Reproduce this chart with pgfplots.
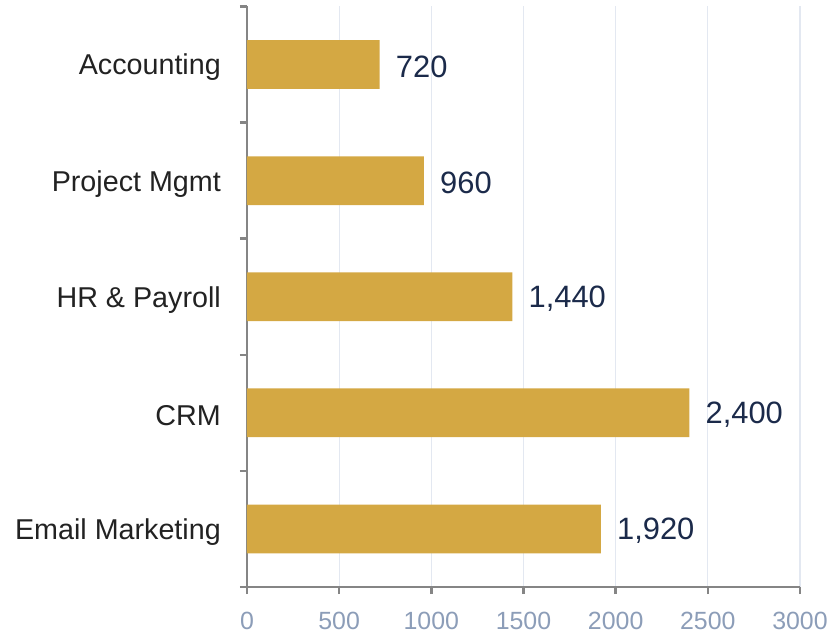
\documentclass[border=0pt]{standalone}
\usepackage{fontspec}
\setmainfont{Liberation Sans}
\usepackage{pgfplots}
\pgfplotsset{compat=1.18}
\definecolor{barc}{HTML}{D4A843}
\definecolor{valc}{HTML}{1B2A4A}
\definecolor{tickc}{HTML}{8C9DB8}
\definecolor{catc}{HTML}{222222}
\definecolor{axisgray}{HTML}{858585}
\definecolor{gridc}{HTML}{E3E8F1}
\begin{document}
\begin{tikzpicture}
\useasboundingbox (-247bp,-47bp) rectangle (586bp,587bp);
\begin{axis}[
  at={(0,0)}, anchor=south west,
  xbar, bar width=0.42, bar shift=0pt,
  scale only axis, width=553bp, height=580.5bp,
  xmin=0, xmax=3000, ymin=-0.5, ymax=4.5,
  axis x line*=bottom, axis y line*=left,
  axis line style={draw=axisgray, line width=2.4bp, -},
  xtick={0,500,...,3000},
  xticklabels={0,500,1000,1500,2000,2500,3000},
  ytick={0,...,4},
  yticklabels={Email Marketing,CRM,HR \& Payroll,Project Mgmt,Accounting},
  minor ytick={-0.5,0.5,...,4.5},
  tick align=outside,
  major tick length=7bp, minor tick length=7bp,
  tick style={draw=axisgray, line width=2.4bp},
  major y tick style={draw=none},
  xmajorgrids, grid style={draw=gridc, line width=1.2bp},
  xticklabel style={font=\fontsize{25}{25}\selectfont, text=tickc, inner sep=0pt, yshift=-18bp},
  yticklabel style={font=\fontsize{28.8}{29}\selectfont, text=catc, inner sep=0pt, xshift=-19bp, yshift=-3bp},
  clip=false,
]
\addplot[fill=barc, draw=none, nodes near coords, point meta=explicit symbolic,
  nodes near coords style={anchor=west, inner sep=0pt, xshift=16bp, yshift=-2bp, font=\fontsize{31}{31}\selectfont, text=valc}]
  table[x=x, y=y, meta=label] {
x y label
1920 0 1,920
2400 1 2,400
1440 2 1,440
960 3 960
720 4 720
};
\end{axis}
\end{tikzpicture}
\end{document}
